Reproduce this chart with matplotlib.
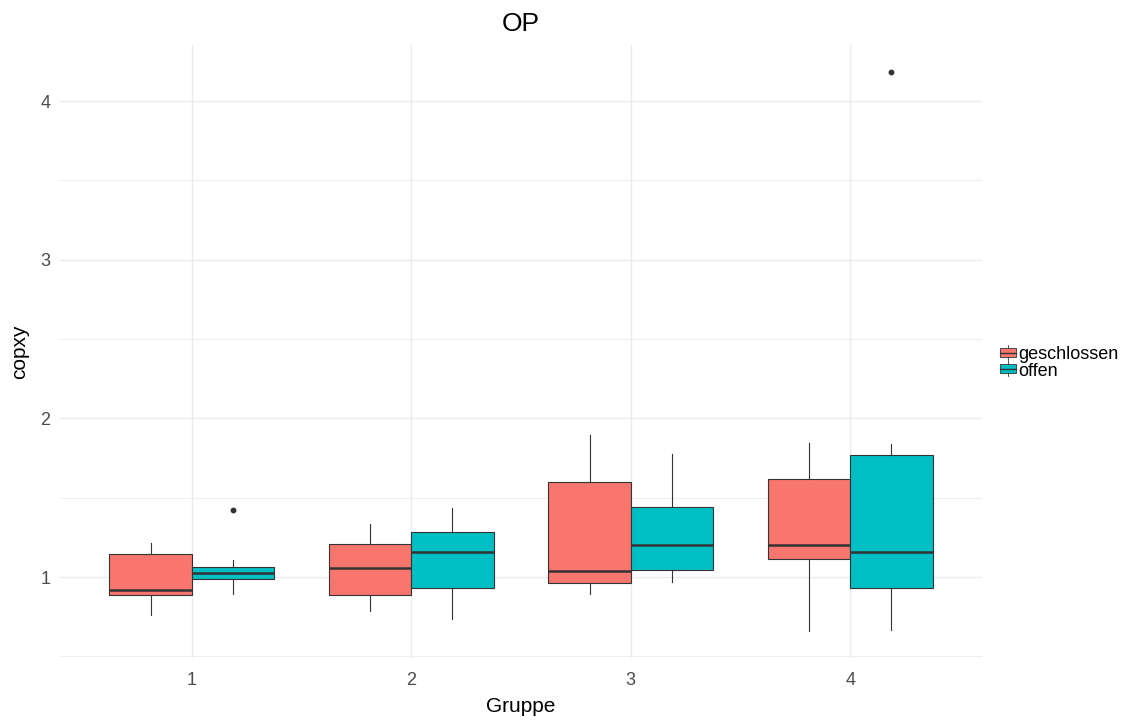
import numpy as np
import matplotlib.pyplot as plt
from matplotlib.legend_handler import HandlerBase
from matplotlib.patches import Rectangle
from matplotlib.lines import Line2D
from matplotlib.ticker import MultipleLocator

plt.rcParams["font.family"] = ["Liberation Sans", "DejaVu Sans"]

# ------------------------------------------------------------
# data: five-number summaries per group and door state
# ------------------------------------------------------------
groups = [1, 2, 3, 4]
states = ["geschlossen", "offen"]
colors = ["#F8766D", "#00BFC4"]

# geschlossen
g_whislo = [0.762, 0.786, 0.893, 0.660]
g_q1 = [0.887, 0.887, 0.962, 1.112]
g_med = [0.918, 1.057, 1.038, 1.205]
g_q3 = [1.145, 1.208, 1.599, 1.620]
g_whishi = [1.212, 1.334, 1.895, 1.845]
g_fliers = [[], [], [], []]

# offen
o_whislo = [0.893, 0.735, 0.968, 0.666]
o_q1 = [0.987, 0.930, 1.044, 0.929]
o_med = [1.025, 1.158, 1.200, 1.158]
o_q3 = [1.061, 1.284, 1.441, 1.771]
o_whishi = [1.107, 1.435, 1.775, 1.840]
o_fliers = [[1.422], [], [], [4.18]]

EDGE = "#333333"
GRID = "#ebebeb"
DODGE = 0.1875
BOX_W = 0.375


def make_stats(lo, q1, med, q3, hi, fl):
    return [dict(whislo=a, q1=b, med=c, q3=d, whishi=e, fliers=f)
            for a, b, c, d, e, f in zip(lo, q1, med, q3, hi, fl)]


class BoxKeyHandler(HandlerBase):
    """Small boxplot glyph as legend key."""

    def __init__(self, color):
        super().__init__()
        self.color = color

    def create_artists(self, legend, orig_handle, x0, y0, width, height, fontsize, trans):
        cx = x0 + width / 2
        rect = Rectangle((x0 + width * 0.05, y0 + height * 0.15), width * 0.9, height * 0.7,
                         facecolor=self.color, edgecolor=EDGE, lw=0.6, transform=trans)
        med = Line2D([x0 + width * 0.05, x0 + width * 0.95], [y0 + height / 2] * 2,
                     color=EDGE, lw=1.0, transform=trans)
        wh1 = Line2D([cx, cx], [y0 + height * 0.85, y0 + height * 1.05], color=EDGE, lw=0.6,
                     transform=trans)
        wh2 = Line2D([cx, cx], [y0 - height * 0.05, y0 + height * 0.15], color=EDGE, lw=0.6,
                     transform=trans)
        return [rect, med, wh1, wh2]


fig = plt.figure(figsize=(11.25, 7.2), dpi=100)
ax = fig.add_axes([0.0533, 0.0861, 0.8196, 0.8518])

x = np.array(groups, float)
series = [
    make_stats(g_whislo, g_q1, g_med, g_q3, g_whishi, g_fliers),
    make_stats(o_whislo, o_q1, o_med, o_q3, o_whishi, o_fliers),
]
offsets = [-DODGE, DODGE]

for stats, col, off in zip(series, colors, offsets):
    ax.bxp(
        stats,
        positions=x + off,
        widths=BOX_W,
        patch_artist=True,
        showcaps=False,
        boxprops=dict(facecolor=col, edgecolor=EDGE, linewidth=0.8),
        medianprops=dict(color=EDGE, linewidth=1.8),
        whiskerprops=dict(color=EDGE, linewidth=0.8),
        flierprops=dict(marker="o", markersize=3.2, markerfacecolor=EDGE,
                        markeredgecolor=EDGE),
        manage_ticks=False,
        zorder=3,
    )

ax.set_xlim(0.4, 4.6)
ax.set_ylim(0.49, 4.355)
ax.set_xticks(groups)
ax.set_xticklabels([str(g) for g in groups])
ax.yaxis.set_major_locator(MultipleLocator(1))
ax.yaxis.set_minor_locator(MultipleLocator(0.5))

ax.grid(True, which="major", color=GRID, linewidth=1.0, zorder=0)
ax.grid(True, which="minor", axis="y", color=GRID, linewidth=0.6, zorder=0)
ax.set_axisbelow(True)
for s in ax.spines.values():
    s.set_visible(False)
ax.tick_params(which="both", length=0, labelsize=13, labelcolor="#4d4d4d")
ax.tick_params(axis="x", pad=10)
ax.tick_params(axis="y", pad=7)

ax.set_title("OP", fontsize=19, pad=10)
ax.set_xlabel("Gruppe", fontsize=15, labelpad=6)
ax.set_ylabel("copxy", fontsize=15, labelpad=8)

handles = [Rectangle((0, 0), 1, 1), Rectangle((0, 1), 1, 1)]
leg = ax.legend(
    handles, states,
    handler_map={handles[0]: BoxKeyHandler(colors[0]), handles[1]: BoxKeyHandler(colors[1])},
    loc="center left", bbox_to_anchor=(1.005, 0.481), frameon=False,
    fontsize=13, handlelength=0.95, handleheight=0.75, handletextpad=0.08,
    labelspacing=-0.05, borderaxespad=0.3,
)

fig.savefig("out.png", dpi=100)
